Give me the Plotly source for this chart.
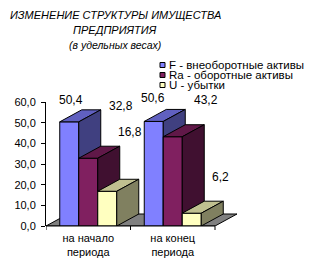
import plotly.graph_objects as go

# ---------------- data ----------------
categories = ["на начало<br>периода", "на конец<br>периода"]
series_names = ["F - внеоборотные активы", "Ra - оборотные активы", "U - убытки"]
F_values = [50.4, 50.6]
Ra_values = [32.8, 43.2]
U_values = [16.8, 6.2]
value_labels_F = ["50,4", "50,6"]
value_labels_Ra = ["32,8", "43,2"]
value_labels_U = ["16,8", "6,2"]
y_ticks = [0, 10, 20, 30, 40, 50, 60]

# ---------------- styles ----------------
FONT = "Liberation Sans, Arial, sans-serif"
front_colors = ["#8080FF", "#802060", "#FFFFC0"]
top_colors = ["#6060C0", "#601848", "#C0C090"]
side_colors = ["#404080", "#401030", "#808060"]
floor_color = "#808080"

W, H = 312, 271
L, T = 46, 102          # plot left / top (px)
PW, PH = 200, 124       # plot width / height (px)
B = H - T - PH
R = W - L - PW
X0, X1cat = -0.5, 1.5   # category axis span
ux = (215 - 46) / (X1cat - X0)   # px per x unit
XMAX = X0 + PW / ux
YMAX = 60
uy = PH / YMAX
DEPTH_DX = 22 / ux
DEPTH_DY = 12 / uy
BAR_W = 19 / ux

# label pixel offsets (dx, dy) relative to bar front-top centre
label_offsets = {
    0: [(2, 22), (-1, 23)],
    1: [(33, 52), (33, 37)],
    2: [(23, 59), (29, 36)],
}


def px2paper(x, y):
    return (x - L) / PW, (T + PH - y) / PH


fig = go.Figure()


def poly(xs, ys, color):
    fig.add_trace(go.Scatter(
        x=xs + [xs[0]], y=ys + [ys[0]], mode="lines", fill="toself",
        fillcolor=color, line=dict(color="black", width=1),
        hoverinfo="skip", showlegend=False))


# floor
poly([X0, X1cat, X1cat + DEPTH_DX, X0 + DEPTH_DX],
     [0, 0, DEPTH_DY, DEPTH_DY], floor_color)

all_values = [F_values, Ra_values, U_values]
all_labels = [value_labels_F, value_labels_Ra, value_labels_U]

for ci in range(len(categories)):
    for si in range(3):
        v = all_values[si][ci]
        x_left = ci - 1.5 * BAR_W + si * BAR_W
        x_right = x_left + BAR_W
        # front
        poly([x_left, x_right, x_right, x_left], [0, 0, v, v], front_colors[si])
        # top
        poly([x_left, x_right, x_right + DEPTH_DX, x_left + DEPTH_DX],
             [v, v, v + DEPTH_DY, v + DEPTH_DY], top_colors[si])
        # side
        poly([x_right, x_right + DEPTH_DX, x_right + DEPTH_DX, x_right],
             [0, DEPTH_DY, v + DEPTH_DY, v], side_colors[si])
        dxp, dyp = label_offsets[si][ci]
        fig.add_annotation(x=(x_left + x_right) / 2, y=v, text=all_labels[si][ci],
                           showarrow=False, xshift=dxp, yshift=dyp,
                           font=dict(family=FONT, size=12, color="black"))

# x axis line and tick marks
fig.add_shape(type="line", xref="x", yref="paper", x0=X0, x1=X1cat, y0=0, y1=0,
              line=dict(color="black", width=1))
for xv in [X0, 0.5, X1cat]:
    fig.add_shape(type="line", xref="x", yref="paper", x0=xv, x1=xv, y0=0, y1=-4 / PH,
                  line=dict(color="black", width=1))

# title
for txt, yc, sz in [("ИЗМЕНЕНИЕ СТРУКТУРЫ ИМУЩЕСТВА", 15, 11),
                    ("ПРЕДПРИЯТИЯ", 30, 11),
                    ("(в удельных весах)", 45, 10.5)]:
    px_, py_ = px2paper(115, yc)
    fig.add_annotation(x=px_, y=py_, xref="paper", yref="paper", text="<i>" + txt + "</i>",
                       showarrow=False, xanchor="center", yanchor="middle",
                       font=dict(family=FONT, size=sz, color="black"))

# legend
for i, name in enumerate(series_names):
    yc = 65 + 10 * i
    sx0, sy0 = px2paper(160, yc - 2.5)
    sx1, sy1 = px2paper(165, yc + 2.5)
    fig.add_shape(type="rect", xref="paper", yref="paper", x0=sx0, x1=sx1, y0=sy1, y1=sy0,
                  fillcolor=front_colors[i], line=dict(color="black", width=1))
    tx, ty = px2paper(166.5, yc)
    fig.add_annotation(x=tx, y=ty, xref="paper", yref="paper", text=name,
                       showarrow=False, xanchor="left", yanchor="middle",
                       font=dict(family=FONT, size=11.5, color="black"))

fig.update_layout(
    width=W, height=H, margin=dict(l=L, r=R, t=T, b=B),
    paper_bgcolor="white", plot_bgcolor="white",
    separators=", ", showlegend=False,
    font=dict(family=FONT, size=11, color="black"),
)
fig.update_xaxes(range=[X0, XMAX], tickvals=[0, 1], ticktext=categories,
                 ticks="", showline=False, showgrid=False, zeroline=False,
                 ticklabelstandoff=4,
                 tickfont=dict(family=FONT, size=11, color="black"))
fig.update_yaxes(range=[0, YMAX], tickvals=y_ticks, tickformat=".1f",
                 ticks="outside", ticklen=4, tickcolor="black",
                 showline=True, linecolor="black", linewidth=1,
                 showgrid=False, zeroline=False, ticklabelstandoff=3,
                 tickfont=dict(family=FONT, size=11, color="black"))

fig.write_html("out.html")
